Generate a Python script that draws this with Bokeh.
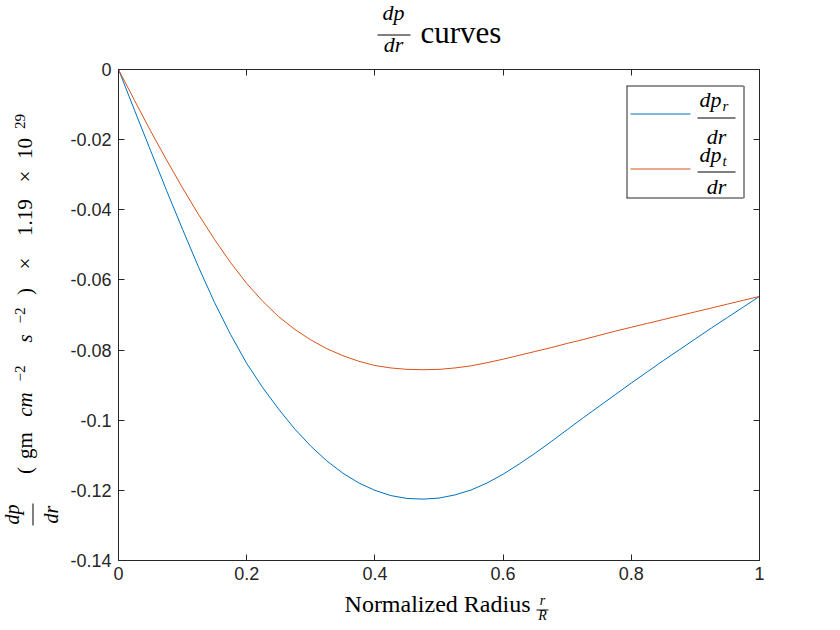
from math import pi
from bokeh.plotting import figure
from bokeh.layouts import row, column
from bokeh.models import Range1d, LinearAxis, FixedTicker, Label, Arrow
from bokeh.embed import file_html
from bokeh.resources import INLINE

# ---- data ----
radius = [0.000, 0.025, 0.050, 0.075, 0.100, 0.125, 0.150, 0.175, 0.200, 0.225,
          0.250, 0.275, 0.300, 0.325, 0.350, 0.375, 0.400, 0.425, 0.450, 0.475,
          0.500, 0.525, 0.550, 0.575, 0.600, 0.625, 0.650, 0.675, 0.700, 0.725,
          0.750, 0.775, 0.800, 0.825, 0.850, 0.875, 0.900, 0.925, 0.950, 0.975,
          1.000]
dpr_dr = [0.0, -0.0116, -0.0231, -0.0345, -0.0456, -0.0564, -0.0665, -0.0756,
          -0.0838, -0.0907, -0.0969, -0.1025, -0.1074, -0.1116, -0.1151, -0.1179,
          -0.1200, -0.1215, -0.1223, -0.1225, -0.1222, -0.1213, -0.1199, -0.1179,
          -0.1154, -0.1125, -0.1094, -0.1061, -0.1027, -0.0993, -0.0960, -0.0927,
          -0.0894, -0.0862, -0.0830, -0.0799, -0.0768, -0.0737, -0.0707, -0.0677,
          -0.0647]
dpt_dr = [0.0, -0.0088, -0.0175, -0.0258, -0.0338, -0.0414, -0.0485, -0.0551,
          -0.0610, -0.0661, -0.0705, -0.0741, -0.0771, -0.0796, -0.0816, -0.0832,
          -0.0844, -0.0851, -0.0855, -0.0856, -0.0855, -0.0851, -0.0845, -0.0836,
          -0.0826, -0.0815, -0.0804, -0.0793, -0.0781, -0.0770, -0.0758, -0.0746,
          -0.0735, -0.0724, -0.0713, -0.0702, -0.0691, -0.0680, -0.0669, -0.0658,
          -0.0647]
x_ticks = [0, 0.2, 0.4, 0.6, 0.8, 1]
x_tick_labels = ["0", "0.2", "0.4", "0.6", "0.8", "1"]
y_ticks = [0, -0.02, -0.04, -0.06, -0.08, -0.1, -0.12, -0.14]
y_tick_labels = ["0", "-0.02", "-0.04", "-0.06", "-0.08", "-0.1", "-0.12", "-0.14"]

BLUE = "#0072BD"
ORANGE = "#D95319"
AX = "#262626"
SERIF = "Liberation Serif"
SHIFT = 0.40   # Bokeh draws "alphabetic" labels about this many em low


def text_fig(w, h):
    f = figure(width=w, height=h, output_backend="svg", toolbar_location=None,
               x_range=Range1d(0, w), y_range=Range1d(0, h),
               x_axis_location=None, y_axis_location=None)
    f.min_border = 0
    f.outline_line_color = None
    f.grid.visible = False
    f.background_fill_color = "white"
    f.border_fill_color = "white"
    return f


def lab(f, text, x, y, size, italic=False, rot=False, align="center"):
    # (x, y) is the wanted baseline point, frame pixels from bottom-left
    if rot:
        x -= SHIFT * size
    else:
        y += SHIFT * size
    f.add_layout(Label(x=x, y=y, x_units="screen", y_units="screen", text=text,
                       text_font=SERIF, text_font_size=f"{size}px",
                       text_font_style="italic" if italic else "normal",
                       angle=pi / 2 if rot else 0.0, text_align=align,
                       text_baseline="alphabetic", text_color="black"))


def seg(f, x0, y0, x1, y1, color="black", width=1):
    f.add_layout(Arrow(end=None, x_start=x0, y_start=y0, x_end=x1, y_end=y1,
                       start_units="screen", end_units="screen",
                       line_color=color, line_width=width))


# ---------------- main plot ----------------
p = figure(width=772, height=531, output_backend="svg", toolbar_location=None,
           x_range=Range1d(0, 1), y_range=Range1d(-0.14, 0),
           x_axis_location=None, y_axis_location=None)
p.min_border_left = 54
p.min_border_right = 77
p.min_border_top = 10
p.min_border_bottom = 30
p.outline_line_color = AX
p.outline_line_width = 1
p.background_fill_color = "white"
p.border_fill_color = "white"
p.grid.visible = False


def make_axis(ticks, labels, show):
    ax = LinearAxis(ticker=FixedTicker(ticks=ticks))
    ax.major_tick_in = 6
    ax.major_tick_out = 0
    ax.minor_tick_in = 0
    ax.minor_tick_out = 0
    ax.axis_line_color = AX
    ax.major_tick_line_color = AX
    ax.major_label_text_font = "Liberation Sans"
    ax.major_label_text_color = AX
    if show:
        ax.major_label_text_font_size = "18px"
        ax.major_label_overrides = dict(zip(ticks, labels))
    else:
        ax.major_label_text_font_size = "1px"
        ax.major_label_standoff = 0
        ax.major_label_overrides = {t: "" for t in ticks}
    return ax


xb = make_axis(x_ticks, x_tick_labels, True)
xb.major_label_standoff = 6
p.add_layout(xb, "below")
yl = make_axis(y_ticks, y_tick_labels, True)
yl.major_label_standoff = 7
p.add_layout(yl, "left")
p.add_layout(make_axis(x_ticks, x_tick_labels, False), "above")
p.add_layout(make_axis(y_ticks, y_tick_labels, False), "right")

p.line(radius, dpr_dr, line_color=BLUE, line_width=1)
p.line(radius, dpt_dr, line_color=ORANGE, line_width=1)

# legend (frame-relative pixels)
seg(p, 508, 474.5, 625, 474.5, AX)
seg(p, 508, 362.5, 625, 362.5, AX)
seg(p, 508.5, 362.5, 508.5, 474.5, AX)
seg(p, 625.5, 362.5, 625.5, 474.5, AX)
seg(p, 512, 446.5, 572, 446.5, BLUE)
seg(p, 512, 391.5, 572, 391.5, ORANGE)
lab(p, "dp", 592, 452.5, 22, italic=True)
lab(p, "r", 604, 449, 15, italic=True, align="left")
seg(p, 579, 442.5, 617, 442.5)
lab(p, "dr", 598, 415, 22, italic=True)
lab(p, "dp", 592, 397, 22, italic=True)
lab(p, "t", 604, 394, 15, italic=True, align="left")
seg(p, 579, 388.5, 617, 388.5)
lab(p, "dr", 598, 365, 22, italic=True)

# ---------------- title (frame aligned with the main frame) ----------------
t = text_fig(772, 59)
lab(t, "dp", 275, 38, 22, italic=True)
seg(t, 259, 24.5, 292, 24.5)
lab(t, "dr", 275, 6, 22, italic=True)
lab(t, "curves", 302, 15, 31, align="left")

# ---------------- x label ----------------
xlab = text_fig(772, 36)
lab(xlab, "Normalized Radius", 412, 12.5, 24, align="right")
lab(xlab, "r", 424, 20, 14, italic=True)
seg(xlab, 418, 16.5, 430, 16.5)
lab(xlab, "R", 424, 5, 14, italic=True)

# ---------------- y label (reads bottom to top) ----------------
ylab = text_fig(64, 626)
lab(ylab, "dp", 19, 112, 20, italic=True, rot=True)
seg(ylab, 32.5, 101, 32.5, 123)
lab(ylab, "dr", 58, 112, 20, italic=True, rot=True)
B = 33     # baseline of the main text
S = 25     # baseline of superscripts
lab(ylab, "(", B, 156, 21, rot=True)
lab(ylab, "gm", B, 181, 21, rot=True)
lab(ylab, "cm", B, 222, 21, italic=True, rot=True)
lab(ylab, "\u22122", S, 253, 15, rot=True)
lab(ylab, "s", B, 288, 21, italic=True, rot=True)
lab(ylab, "\u22122", S, 311, 15, rot=True)
lab(ylab, ")", B, 335, 21, rot=True)
lab(ylab, "\u00d7", B, 363, 21, rot=True)
lab(ylab, "1.19", B, 409, 21, rot=True)
lab(ylab, "\u00d7", B, 450, 21, rot=True)
lab(ylab, "10", B, 478, 21, rot=True)
lab(ylab, "29", S, 505, 15, rot=True)

layout = row(ylab, column(t, p, xlab))
open("out.html", "w").write(file_html(layout, INLINE))
